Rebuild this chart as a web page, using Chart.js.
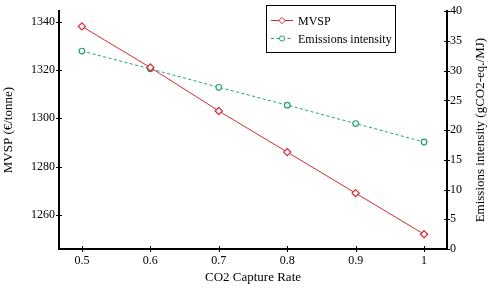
<!DOCTYPE html>
<html>
<head>
<meta charset="utf-8">
<script src="https://cdn.jsdelivr.net/npm/chart.js@4.4.1/dist/chart.umd.min.js"></script>
<style>
  html, body { margin: 0; padding: 0; background: #fff; }
  #wrap { width: 488px; height: 293px; position: relative; }
</style>
</head>
<body>
<div id="wrap"><canvas id="chart"></canvas></div>
<script>
// --- data ---
const captureRates = [0.5, 0.6, 0.7, 0.8, 0.9, 1.0]
const mvspValues = [1338, 1321, 1303, 1286, 1269, 1252]
const emissionValues = [33.3, 30.3, 27.2, 24.2, 21.1, 18.0]

const xTicks = [0.5, 0.6, 0.7, 0.8, 0.9, 1]
const mvspTicks = [1260, 1280, 1300, 1320, 1340]
const emissionTicks = [0, 5, 10, 15, 20, 25, 30, 35, 40]

const RED = '#d42a2f'
const GREEN = '#1f9e78'
const FONT = 'Liberation Serif, Times New Roman, serif'
const RIGHT_TITLE = 'Emissions intensity (gCO2-eq./MJ)'

// small tick marks that cross each axis line (both sides)
const crossTicks = {
  id: 'crossTicks',
  afterDraw(chart) {
    const { ctx, chartArea } = chart
    const len = 3
    ctx.save()
    ctx.strokeStyle = '#000'
    ctx.lineWidth = 1
    ctx.beginPath()
    xTicks.forEach((v) => {
      const x = Math.round(chart.scales.x.getPixelForValue(v)) + 0.5
      ctx.moveTo(x, chartArea.bottom - len)
      ctx.lineTo(x, chartArea.bottom + len)
    })
    mvspTicks.forEach((v) => {
      const y = Math.round(chart.scales.y.getPixelForValue(v)) + 0.5
      ctx.moveTo(chartArea.left - len, y)
      ctx.lineTo(chartArea.left + len, y)
    })
    emissionTicks.forEach((v) => {
      const y = Math.round(chart.scales.y2.getPixelForValue(v)) + 0.5
      ctx.moveTo(chartArea.right - len, y)
      ctx.lineTo(chartArea.right + len, y)
    })
    ctx.stroke()

    // right axis title reads bottom-to-top, like the left one
    ctx.fillStyle = '#000'
    ctx.font = '13px ' + FONT
    ctx.textAlign = 'center'
    ctx.textBaseline = 'middle'
    ctx.translate(481, (chartArea.top + chartArea.bottom) / 2)
    ctx.rotate(-Math.PI / 2)
    ctx.fillText(RIGHT_TITLE, 0, 0)
    ctx.restore()
  }
}

// framed legend in the top right of the plot
const boxLegend = {
  id: 'boxLegend',
  afterDraw(chart) {
    const { ctx } = chart
    const x0 = 266, y0 = 5, w = 129, h = 47
    ctx.save()
    ctx.fillStyle = '#fff'
    ctx.fillRect(x0, y0, w, h)
    ctx.strokeStyle = '#000'
    ctx.lineWidth = 1
    ctx.strokeRect(x0 + 0.5, y0 + 0.5, w, h)
    const rows = [20.5, 38.5]
    chart.data.datasets.forEach((ds, i) => {
      const y = rows[i]
      ctx.strokeStyle = ds.borderColor
      ctx.lineWidth = 1
      ctx.setLineDash(ds.borderDash || [])
      ctx.beginPath()
      ctx.moveTo(271, y)
      ctx.lineTo(293, y)
      ctx.stroke()
      ctx.setLineDash([])
      ctx.fillStyle = '#fff'
      ctx.strokeStyle = ds.pointBorderColor
      ctx.beginPath()
      if (ds.pointStyle === 'rectRot') {
        const r = 3.2
        ctx.moveTo(282, y - r)
        ctx.lineTo(282 + r, y)
        ctx.lineTo(282, y + r)
        ctx.lineTo(282 - r, y)
        ctx.closePath()
      } else {
        ctx.arc(282, y, 2.6, 0, Math.PI * 2)
      }
      ctx.fill()
      ctx.stroke()
      ctx.fillStyle = '#000'
      ctx.font = '12px ' + FONT
      ctx.textBaseline = 'middle'
      ctx.fillText(ds.label, 298, y + 1)
    })
    ctx.restore()
  }
}

const ctx = document.getElementById('chart')

new Chart(ctx, {
  type: 'line',
  data: {
    datasets: [
      {
        label: 'MVSP',
        data: captureRates.map((x, i) => ({ x: x, y: mvspValues[i] })),
        yAxisID: 'y',
        borderColor: RED,
        borderWidth: 1,
        pointStyle: 'rectRot',
        pointRadius: 3.6,
        pointBorderWidth: 1.2,
        pointBorderColor: RED,
        pointBackgroundColor: '#fff'
      },
      {
        label: 'Emissions intensity',
        data: captureRates.map((x, i) => ({ x: x, y: emissionValues[i] })),
        yAxisID: 'y2',
        borderColor: GREEN,
        borderWidth: 1,
        borderDash: [3, 2.5],
        pointStyle: 'circle',
        pointRadius: 2.8,
        pointBorderWidth: 1.2,
        pointBorderColor: GREEN,
        pointBackgroundColor: '#fff'
      }
    ]
  },
  options: {
    responsive: true,
    maintainAspectRatio: false,
    animation: false,
    layout: { padding: { top: 5, left: 0, right: 0, bottom: 0 } },
    plugins: {
      legend: { display: false },
      tooltip: { enabled: false }
    },
    scales: {
      x: {
        type: 'linear',
        min: 0.4665,
        max: 1.0335,
        afterBuildTicks: (scale) => {
          scale.ticks = xTicks.map((v) => ({ value: v }))
        },
        afterFit: (scale) => {
          scale.height = 44
        },
        grid: { drawOnChartArea: false, drawTicks: false },
        border: { color: '#000', width: 2 },
        ticks: {
          padding: 5,
          color: '#000',
          font: { family: FONT, size: 12 },
          callback: (v) => String(v)
        },
        title: {
          display: true,
          text: 'CO2 Capture Rate',
          color: '#000',
          font: { family: FONT, size: 13 },
          padding: { top: 0, bottom: 8 }
        }
      },
      y: {
        position: 'left',
        min: 1245.9,
        max: 1344.3,
        afterBuildTicks: (scale) => {
          scale.ticks = mvspTicks.map((v) => ({ value: v }))
        },
        afterFit: (scale) => {
          scale.width = 59
        },
        grid: { drawOnChartArea: false, drawTicks: false },
        border: { color: '#000', width: 2 },
        ticks: {
          padding: 4,
          color: '#000',
          font: { family: FONT, size: 12 },
          callback: (v) => String(v)
        },
        title: {
          display: true,
          text: 'MVSP (€/tonne)',
          color: '#000',
          font: { family: FONT, size: 13 },
          padding: { top: 1, bottom: 0 }
        }
      },
      y2: {
        position: 'right',
        min: 0,
        max: 40,
        afterBuildTicks: (scale) => {
          scale.ticks = emissionTicks.map((v) => ({ value: v }))
        },
        afterFit: (scale) => {
          scale.width = 41
        },
        grid: { drawOnChartArea: false, drawTicks: false },
        border: { color: '#000', width: 2 },
        ticks: {
          padding: 3,
          color: '#000',
          font: { family: FONT, size: 12 },
          callback: (v) => String(v)
        },
        title: { display: false }
      }
    }
  },
  plugins: [crossTicks, boxLegend]
})
</script>
</body>
</html>
